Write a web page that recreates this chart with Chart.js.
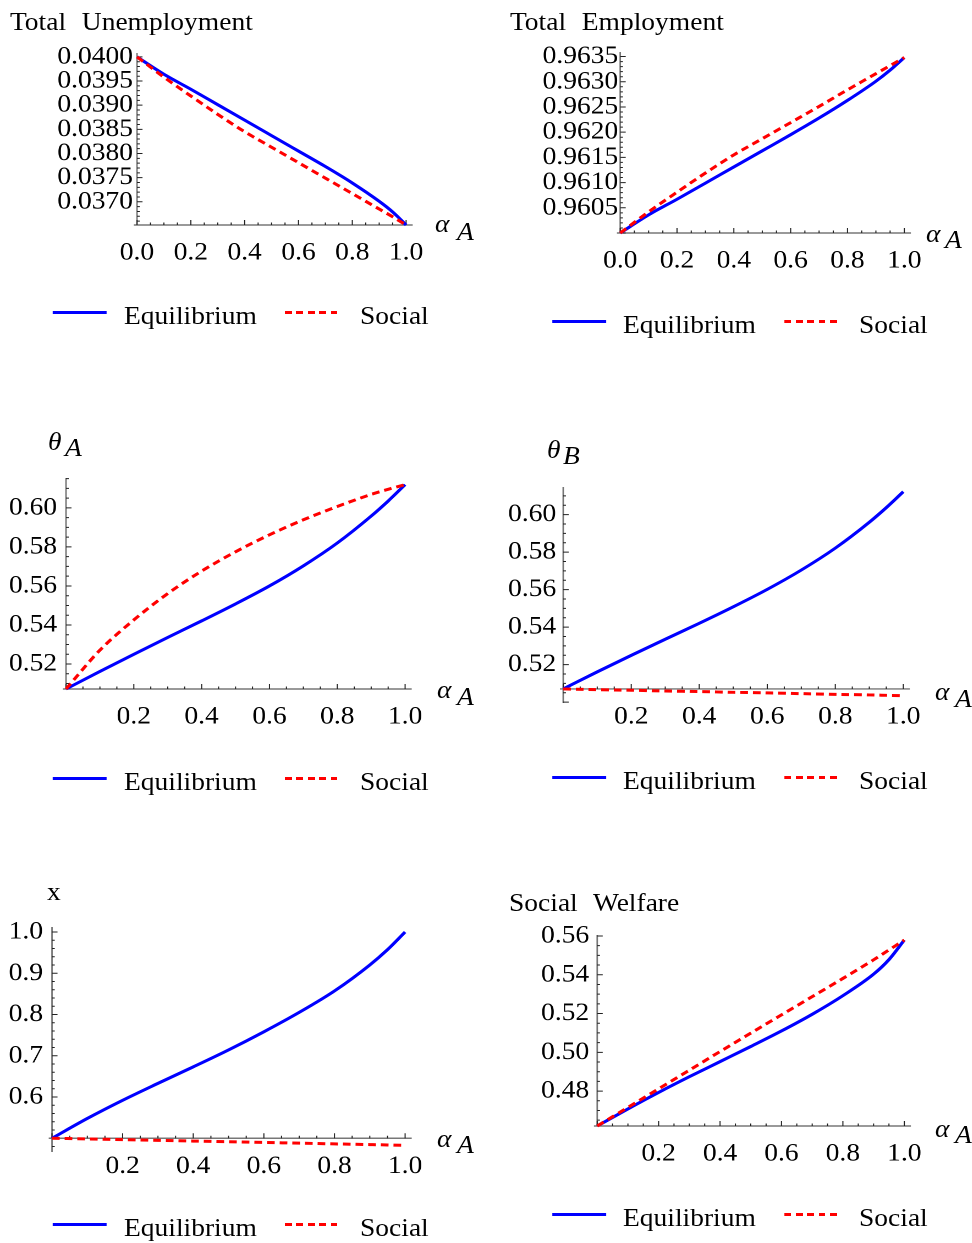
<!DOCTYPE html>
<html>
<head>
<meta charset="utf-8">
<script src="https://cdn.jsdelivr.net/npm/chart.js@4.4.1/dist/chart.umd.min.js"></script>
<style>
  body { margin: 0; background: #fff; }
  #page {
    position: relative; width: 884px; height: 1243px;
    transform: scaleX(1.1); transform-origin: 0 0;
    font-family: "Liberation Serif", "Times New Roman", serif; font-size: 25px; color: #000;
  }
  #page canvas { position: absolute; }
  .t { position: absolute; white-space: pre; line-height: 25px; word-spacing: 8px; }
  .i { font-style: italic; }
  .ln { position: absolute; height: 3px; }
</style>
</head>
<body>
<div id="page"></div>
<script>
// === Data ===
const alpha = [0, 0.1, 0.2, 0.3, 0.4, 0.5, 0.6, 0.7, 0.8, 0.9, 0.95, 1.0];

const unempEq  = [0.04000, 0.03964, 0.03933, 0.03901, 0.03869, 0.03837, 0.03805, 0.03773, 0.03739, 0.03701, 0.03679, 0.03652];
const unempSoc = [0.04000, 0.03958, 0.03919, 0.03881, 0.03845, 0.03813, 0.03781, 0.03749, 0.03717, 0.03685, 0.03669, 0.03652];

const empEq  = [0.96000, 0.96036, 0.96067, 0.96099, 0.96131, 0.96163, 0.96195, 0.96228, 0.96263, 0.96301, 0.96323, 0.96348];
const empSoc = [0.96000, 0.96042, 0.96081, 0.96119, 0.96155, 0.96187, 0.96219, 0.96251, 0.96284, 0.96316, 0.96332, 0.96348];

const thetaAEq  = [0.5072, 0.5162, 0.5250, 0.5336, 0.5421, 0.5508, 0.5600, 0.5703, 0.5820, 0.5958, 0.6035, 0.6119];
const thetaASoc = [0.5072, 0.5271, 0.5426, 0.5561, 0.5676, 0.5775, 0.5862, 0.5939, 0.6007, 0.6069, 0.6095, 0.6119];

const thetaBEq  = [0.5070, 0.5161, 0.5249, 0.5335, 0.5420, 0.5508, 0.5601, 0.5704, 0.5821, 0.5959, 0.6037, 0.6122];
const thetaBSoc = [0.5070, 0.5066, 0.5063, 0.5059, 0.5056, 0.5052, 0.5049, 0.5045, 0.5041, 0.5038, 0.5036, 0.5034];

const xEq  = [0.500, 0.548, 0.592, 0.633, 0.673, 0.714, 0.758, 0.805, 0.857, 0.920, 0.957, 1.000];
const xSoc = [0.500, 0.4983, 0.4966, 0.4949, 0.4932, 0.4915, 0.4898, 0.4881, 0.4864, 0.4847, 0.4838, 0.4829];

const welfEq  = [0.4620, 0.4708, 0.4793, 0.4874, 0.4952, 0.5030, 0.5110, 0.5196, 0.5292, 0.5403, 0.5478, 0.5579];
const welfSoc = [0.4620, 0.4716, 0.4812, 0.4908, 0.5004, 0.5099, 0.5193, 0.5287, 0.5381, 0.5477, 0.5528, 0.5579];

// tick labels
const xTicksFull = ["0.0", "0.2", "0.4", "0.6", "0.8", "1.0"];
const xTicksShort = ["0.2", "0.4", "0.6", "0.8", "1.0"];
const unempTicks = ["0.0370", "0.0375", "0.0380", "0.0385", "0.0390", "0.0395", "0.0400"];
const empTicks = ["0.9605", "0.9610", "0.9615", "0.9620", "0.9625", "0.9630", "0.9635"];
const thetaTicks = ["0.52", "0.54", "0.56", "0.58", "0.60"];
const xShareTicks = ["0.6", "0.7", "0.8", "0.9", "1.0"];
const welfTicks = ["0.48", "0.50", "0.52", "0.54", "0.56"];

// === Layout helpers ===
const SX = 1.1;            // the reference is stretched horizontally
const px = (v) => v / SX;  // page px -> unscaled px
const page = document.getElementById("page");
const FONT = "Liberation Serif";

function addText(x, baseline, html, cls) {
  const d = document.createElement("div");
  d.className = "t" + (cls ? " " + cls : "");
  d.style.left = px(x) + "px";
  d.style.top = (baseline - 21) + "px";
  d.innerHTML = html;
  page.appendChild(d);
}

function addLegend(x0, lineY) {
  const blue = document.createElement("div");
  blue.className = "ln";
  blue.style.cssText = `left:${px(x0)}px;top:${lineY - 1.5}px;width:${px(54)}px;background:#0000ff;`;
  page.appendChild(blue);
  const red = document.createElement("div");
  red.className = "ln";
  red.style.cssText = `left:${px(x0 + 232)}px;top:${lineY - 1.5}px;width:${px(53)}px;` +
    "background:repeating-linear-gradient(to right,#ff0000 0 6.2px,transparent 6.2px 10.4px);";
  page.appendChild(red);
  addText(x0 + 71, lineY + 12, "Equilibrium");
  addText(x0 + 307, lineY + 12, "Social");
}

function axisLabel(xa, ba, xs, bs, sub) {
  addText(xa, ba, "α", "i");
  addText(xs, bs, sub, "i");
}

// === Mathematica-style axes with minor ticks ===
const mAxes = {
  id: "mAxes",
  beforeDatasetsDraw(chart, args, o) {
    const { ctx } = chart;
    const xs = chart.scales.x, ys = chart.scales.y;
    const x0 = xs.getPixelForValue(0), y0 = ys.getPixelForValue(o.cross);
    ctx.save();
    ctx.strokeStyle = "#777";
    ctx.lineWidth = 1.4;
    ctx.beginPath();
    ctx.moveTo(x0, ys.top); ctx.lineTo(x0, ys.bottom);
    ctx.moveTo(x0 - 3, y0); ctx.lineTo(xs.right + 6, y0);
    ctx.stroke();
    ctx.strokeStyle = "#222";
    ctx.lineWidth = 1;
    ctx.beginPath();
    for (let k = 0; k <= 20; k++) {
      const p = xs.getPixelForValue(k * 0.05), len = k % 4 === 0 ? 5 : 2.5;
      ctx.moveTo(p, y0); ctx.lineTo(p, y0 - len);
    }
    const n0 = Math.ceil(ys.min / o.yMinor - 1e-6), n1 = Math.floor(ys.max / o.yMinor + 1e-6);
    const per = Math.round(o.yMajor / o.yMinor);
    for (let k = n0; k <= n1; k++) {
      const p = ys.getPixelForValue(k * o.yMinor), len = k % per === 0 ? 5 : 2.5;
      ctx.moveTo(x0, p); ctx.lineTo(x0 + len, p);
    }
    ctx.stroke();
    ctx.restore();
  },
};

// === Panels ===
function makePanel(p) {
  const left = p.col * 486, top = p.top - 40, h = p.bottom - p.top + 100;
  const c = document.createElement("canvas");
  c.width = px(486); c.height = h;
  c.style.left = px(left) + "px"; c.style.top = top + "px";
  page.appendChild(c);

  const pts = (arr) => alpha.map((a, i) => ({ x: a, y: arr[i] }));
  const tickFont = { family: FONT, size: 25 };
  const yAxisW = px(p.xL) - px(left);

  new Chart(c, {
    type: "line",
    data: {
      datasets: [
        { label: "Social", data: pts(p.soc), borderColor: "#ff0000", borderWidth: 3, borderDash: [7, 4.5],
          pointRadius: 0, cubicInterpolationMode: "monotone", fill: false },
        { label: "Equilibrium", data: pts(p.eq), borderColor: "#0000ff", borderWidth: 3,
          pointRadius: 0, cubicInterpolationMode: "monotone", fill: false },
      ],
    },
    options: {
      responsive: false,
      animation: false,
      devicePixelRatio: 2,
      clip: false,
      layout: {
        padding: { left: 0, right: px(left + 486) - px(p.xR), top: 40, bottom: 60 },
      },
      plugins: {
        legend: { display: false },
        tooltip: { enabled: false },
        mAxes: { cross: p.cross, yMinor: p.yMinor, yMajor: p.yMajor },
      },
      scales: {
        x: {
          type: "linear", min: 0, max: 1,
          position: { y: p.cross },
          grid: { display: false, drawTicks: false },
          border: { display: false },
          afterBuildTicks: (s) => { s.ticks = p.xTicks.map((t) => ({ value: parseFloat(t) })); },
          ticks: { autoSkip: false, maxRotation: 0, padding: 13, color: "#000", font: tickFont,
                   callback: (v, i) => p.xTicks[i] },
        },
        y: {
          type: "linear", min: p.yMin, max: p.yMax,
          position: "left",
          afterFit: (s) => { s.width = yAxisW; },
          grid: { display: false, drawTicks: false },
          border: { display: false },
          afterBuildTicks: (s) => { s.ticks = p.yTicks.map((t) => ({ value: parseFloat(t) })); },
          ticks: { autoSkip: false, padding: px(p.gap), color: "#000", font: tickFont,
                   callback: (v, i) => p.yTicks[i] },
        },
      },
    },
    plugins: [mAxes],
  });
}

makePanel({ col: 0, xL: 137, xR: 407, top: 52.8, bottom: 225, yMin: 0.03652, yMax: 0.04008, cross: 0.03652, gap: 4,
  eq: unempEq, soc: unempSoc, xTicks: xTicksFull, yTicks: unempTicks, yMinor: 0.0001, yMajor: 0.0005 });
makePanel({ col: 1, xL: 620, xR: 905, top: 51.7, bottom: 233, yMin: 0.9600, yMax: 0.96359, cross: 0.9600, gap: 2,
  eq: empEq, soc: empSoc, xTicks: xTicksFull, yTicks: empTicks, yMinor: 0.0001, yMajor: 0.0005 });
makePanel({ col: 0, xL: 66, xR: 406, top: 478.3, bottom: 690, yMin: 0.5072, yMax: 0.6153, cross: 0.5072, gap: 9,
  eq: thetaAEq, soc: thetaASoc, xTicks: xTicksShort, yTicks: thetaTicks, yMinor: 0.005, yMajor: 0.02 });
makePanel({ col: 1, xL: 563, xR: 904, top: 486.7, bottom: 702.7, yMin: 0.4995, yMax: 0.6147, cross: 0.5070, gap: 7,
  eq: thetaBEq, soc: thetaBSoc, xTicks: xTicksShort, yTicks: thetaTicks, yMinor: 0.005, yMajor: 0.02 });
makePanel({ col: 0, xL: 52, xR: 406, top: 926.7, bottom: 1151.7, yMin: 0.4667, yMax: 1.012, cross: 0.5, gap: 9,
  eq: xEq, soc: xSoc, xTicks: xTicksShort, yTicks: xShareTicks, yMinor: 0.02, yMajor: 0.1 });
makePanel({ col: 1, xL: 597, xR: 905, top: 935, bottom: 1126.7, yMin: 0.462, yMax: 0.5605, cross: 0.462, gap: 8,
  eq: welfEq, soc: welfSoc, xTicks: xTicksShort, yTicks: welfTicks, yMinor: 0.005, yMajor: 0.02 });

// === Titles, axis labels, legends ===
addText(10, 30, "Total Unemployment");
addText(510, 30, "Total Employment");
addText(48, 450, "θ", "i"); addText(65, 456, "A", "i");
addText(547, 458, "θ", "i"); addText(563, 464, "B", "i");
addText(47, 900, "x");
addText(509, 911, "Social Welfare");

axisLabel(435, 232, 457, 240, "A");
axisLabel(926, 242, 945, 248, "A");
axisLabel(437, 698, 457, 705, "A");
axisLabel(935, 700, 955, 707, "A");
axisLabel(437, 1147, 457, 1153, "A");
axisLabel(935, 1137, 955, 1143, "A");

addLegend(53, 312);
addLegend(552, 321);
addLegend(53, 778);
addLegend(552, 777);
addLegend(53, 1224);
addLegend(552, 1214);
</script>
</body>
</html>
